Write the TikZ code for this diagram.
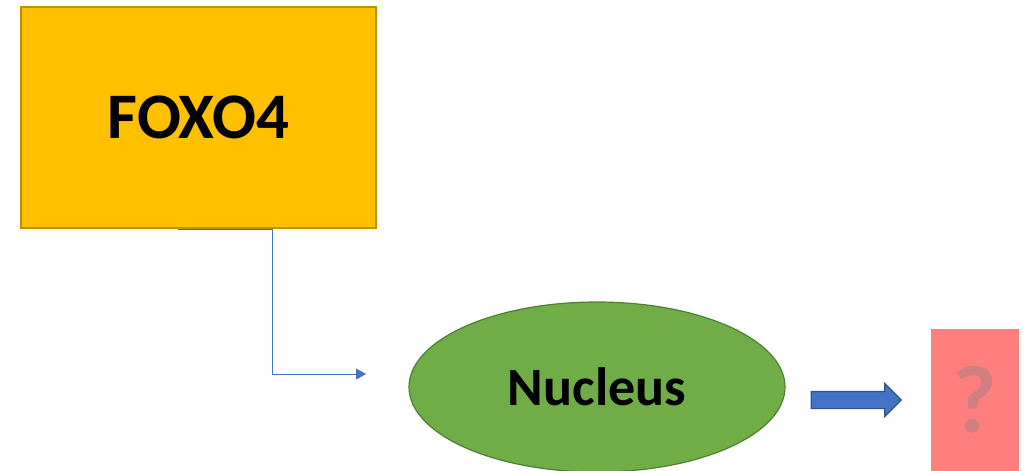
\documentclass[tikz,border=0pt]{standalone}
\usepackage{fontspec}
\setmainfont{Carlito}
\usetikzlibrary{shapes.geometric,shapes.arrows,arrows.meta}
\definecolor{foxo}{HTML}{FFC000}
\definecolor{foxoline}{HTML}{BF9000}
\definecolor{nuc}{HTML}{70AD47}
\definecolor{nucline}{HTML}{507E32}
\definecolor{blueA}{HTML}{4472C4}
\definecolor{blueL}{HTML}{2F528F}
\definecolor{pinkbox}{HTML}{FF7F7F}
\definecolor{qmark}{HTML}{D08080}
\tikzset{
  boxstyle/.style={draw=foxoline, line width=1.5pt, fill=foxo, minimum width=355pt, minimum height=221pt, inner sep=0pt, font=\bfseries\fontsize{65}{70}\selectfont},
  nucstyle/.style={ellipse, draw=nucline, line width=1.2pt, fill=nuc, minimum width=376pt, minimum height=170pt, inner sep=0pt, font=\bfseries\fontsize{54}{60}\selectfont},
  conn/.style={draw=blueA, line width=1pt, -{Triangle[length=10pt,width=11pt]}},
  blockarrow/.style={single arrow, draw=blueL, line width=1.2pt, fill=blueA, minimum height=90pt, minimum width=0pt, single arrow head extend=8pt, single arrow tip angle=90, inner xsep=0pt, inner ysep=8pt},
  qbox/.style={fill=pinkbox, minimum width=88pt, minimum height=142pt, inner sep=0pt, text=qmark, font=\bfseries\fontsize{96}{100}\selectfont}
}
\begin{document}
\begin{tikzpicture}[x=1pt,y=-1pt]
\useasboundingbox (0,0) rectangle (1025,471);
\clip (0,0) rectangle (1025,471);
\node[boxstyle] (foxo) at (198.5,117.5) {FOXO4};
\node[nucstyle] (nuc) at (597,387) {Nucleus};
\coordinate (s) at (178,229);
\coordinate (e) at (366,374);
\draw[conn] (s) -- (272,229) -- (272,374) -- (e);
\node[blockarrow] (ba) at (852,400) {};
\node[qbox] (q) at (975,400) {?};
\end{tikzpicture}
\end{document}
